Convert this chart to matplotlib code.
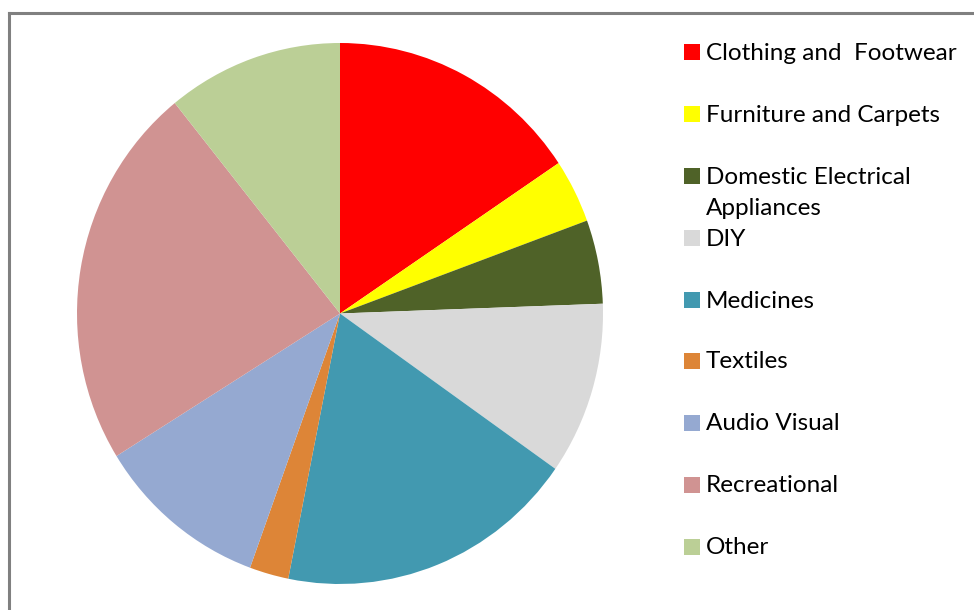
import matplotlib.pyplot as plt
from matplotlib.patches import Rectangle
from matplotlib.lines import Line2D

categories = [
    "Clothing and  Footwear",
    "Furniture and Carpets",
    "Domestic Electrical\nAppliances",
    "DIY",
    "Medicines",
    "Textiles",
    "Audio Visual",
    "Recreational",
    "Other",
]
shares = [15.6, 3.8, 5.0, 10.3, 18.4, 2.4, 10.6, 23.0, 10.8]
colors = ["#FF0000", "#FFFF00", "#4F6228", "#D9D9D9", "#4299B0",
          "#DD8537", "#95A9D1", "#D09392", "#BBCF96"]

W, H = 974, 610
fig = plt.figure(figsize=(W / 100, H / 100), dpi=100)
fig.patch.set_facecolor("white")

# pie axes: centre (340, 313.5) px, radii 263 x 270.5 px (slightly stretched)
cx, cy, rx, ry = 340, 313.5, 263, 270.5
ax = fig.add_axes([(cx - rx) / W, (H - cy - ry) / H, 2 * rx / W, 2 * ry / H])
ax.pie(shares, colors=colors, startangle=90, counterclock=False,
       wedgeprops={"linewidth": 0})
ax.set_xlim(-1, 1)
ax.set_ylim(-1, 1)
ax.set_aspect("auto")
ax.axis("off")

# chart border (only left and top visible)
fig.add_artist(Line2D([8.5 / W, 8.5 / W], [0, (H - 12.5) / H],
                      transform=fig.transFigure, color="#808080", linewidth=2.2))
fig.add_artist(Line2D([8.5 / W, 1], [(H - 12.5) / H, (H - 12.5) / H],
                      transform=fig.transFigure, color="#808080", linewidth=2.2))

# legend, drawn the Excel way: fixed row step, long label wraps over next row
row_y = [52, 114, 176, 238, 300, 361, 423, 485, 547]
for y, name, col in zip(row_y, categories, colors):
    fig.add_artist(Rectangle((684 / W, (H - y - 8) / H), 16 / W, 16 / H,
                             transform=fig.transFigure, facecolor=col,
                             edgecolor="none"))
    if "\n" in name:
        fig.text(706 / W, (H - y - 17) / H, name, fontsize=17.5, family="Lato",
                 va="center", ha="left", color="black", linespacing=1.6)
    else:
        fig.text(706 / W, (H - y - 1) / H, name, fontsize=17.5, family="Lato",
                 va="center", ha="left", color="black")

fig.savefig("out.png", dpi=100, facecolor="white")
